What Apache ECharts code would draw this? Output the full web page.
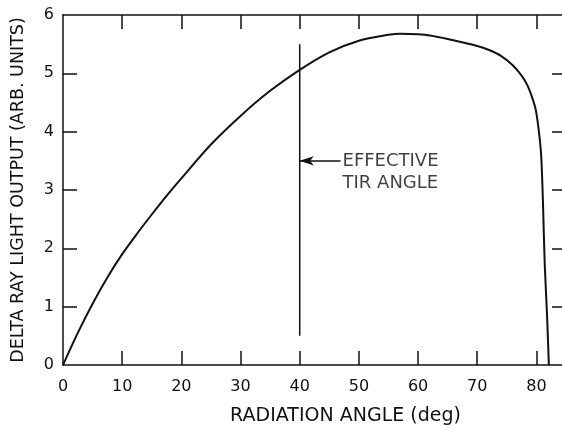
<!DOCTYPE html>
<html>
<head>
<meta charset="utf-8">
<script src="https://cdn.jsdelivr.net/npm/echarts@6/dist/echarts.min.js"></script>
<style>
  html, body { margin: 0; padding: 0; background: #fff; }
  #chart { width: 562px; height: 432px; }
</style>
</head>
<body>
<div id="chart"></div>
<script>
// Light output vs. radiation angle
const angleDeg = [0, 2.5, 5, 7.5, 10, 12.5, 15, 17.5, 20, 25, 30, 35, 40, 45, 50, 55, 57, 60, 62, 65, 70, 72, 74, 76, 77.5, 78.5, 79.3, 79.9, 80.4, 80.8, 81.1, 81.4, 81.8, 82.1];
const lightOutput = [0, 0.55, 1.05, 1.5, 1.9, 2.25, 2.58, 2.9, 3.2, 3.78, 4.27, 4.70, 5.06, 5.36, 5.56, 5.66, 5.68, 5.67, 5.65, 5.59, 5.47, 5.40, 5.30, 5.14, 4.96, 4.79, 4.58, 4.37, 4.02, 3.6, 2.81, 1.74, 0.85, 0];

// Effective TIR angle marker
const tirAngle = 40;
const tirSpan = [0.5, 5.5];
const arrowFrom = 46.9;
const arrowLevel = 3.5;
const tirText = 'EFFECTIVE\nTIR ANGLE';

// Axis ticks
const xTicks = [0, 10, 20, 30, 40, 50, 60, 70, 80];
const yTicks = [0, 1, 2, 3, 4, 5, 6];

const ink = '#111';
const font = '"DejaVu Sans", sans-serif';

const chart = echarts.init(document.getElementById('chart'), null, { renderer: 'canvas' });

const baseX = {
  type: 'value', min: 0, max: 85,
  axisLine: { show: true, onZero: false, lineStyle: { color: ink, width: 1.5 } },
  axisTick: { show: true, inside: true, length: 14, customValues: xTicks.slice(1), lineStyle: { color: ink, width: 1.5 } },
  splitLine: { show: false }
};
const baseY = {
  type: 'value', min: 0, max: 6, interval: 1,
  axisLine: { show: true, onZero: false, lineStyle: { color: ink, width: 1.5 } },
  axisTick: { show: true, inside: true, length: 14, customValues: yTicks.slice(1, -1), lineStyle: { color: ink, width: 1.5 } },
  splitLine: { show: false }
};

chart.setOption({
  backgroundColor: '#fff',
  animation: false,
  grid: { left: 63, top: 15, width: 503, height: 350, containLabel: false, outerBoundsMode: 'none' },
  xAxis: [
    Object.assign({}, baseX, {
      position: 'bottom',
      name: 'RADIATION ANGLE (deg)',
      nameLocation: 'middle',
      nameGap: 42,
      nameTextStyle: { color: ink, fontSize: 19, fontFamily: font, padding: [0, 0, 0, 62] },
      axisLabel: { show: true, customValues: xTicks, margin: 14, color: ink, fontSize: 16, fontFamily: font }
    }),
    Object.assign({}, baseX, { position: 'top', axisLabel: { show: false } })
  ],
  yAxis: [
    Object.assign({}, baseY, {
      position: 'left',
      name: 'DELTA RAY LIGHT OUTPUT (ARB. UNITS)',
      nameLocation: 'middle',
      nameGap: 36,
      nameTextStyle: { color: ink, fontSize: 17.5, fontFamily: font },
      axisLabel: { show: true, customValues: yTicks, margin: 9, color: ink, fontSize: 16, fontFamily: font }
    }),
    Object.assign({}, baseY, { position: 'right', axisLabel: { show: false } })
  ],
  series: [
    {
      type: 'line',
      data: angleDeg.map((a, i) => [a, lightOutput[i]]),
      smooth: 0.3,
      showSymbol: false,
      lineStyle: { color: ink, width: 2 },
      z: 3
    },
    {
      type: 'line',
      data: [[tirAngle, tirSpan[0]], [tirAngle, tirSpan[1]]],
      showSymbol: false,
      lineStyle: { color: ink, width: 1.5 },
      markLine: {
        silent: true,
        symbol: ['none', 'arrow'],
        symbolSize: [7, 14],
        label: { show: false },
        lineStyle: { color: ink, width: 1.5, type: 'solid' },
        data: [[{ coord: [arrowFrom, arrowLevel] }, { coord: [tirAngle, arrowLevel] }]]
      }
    },
    {
      type: 'scatter',
      data: [[arrowFrom, arrowLevel]],
      symbolSize: 0,
      silent: true,
      label: {
        show: true,
        position: 'right',
        distance: 2,
        offset: [0, 11],
        formatter: tirText,
        color: ink,
        fontSize: 18,
        lineHeight: 22,
        fontFamily: font
      }
    }
  ]
});
</script>
</body>
</html>
